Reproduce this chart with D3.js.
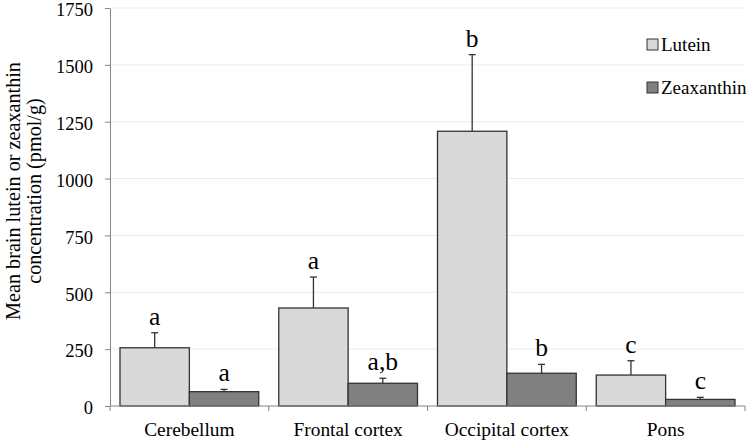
<!DOCTYPE html>
<html>
<head>
<meta charset="utf-8">
<script src="https://cdn.jsdelivr.net/npm/d3@7/dist/d3.min.js"></script>
<style>
  html, body { margin: 0; padding: 0; background: #fff; }
  svg { display: block; }
  svg text { font-family: "Liberation Serif", Tinos, "Times New Roman", Times, "DejaVu Serif", serif !important; fill: #000; }
</style>
</head>
<body>
<svg id="chart" width="750" height="443"></svg>
<script>
const categories = ["Cerebellum", "Frontal cortex", "Occipital cortex", "Pons"];
const seriesNames = ["Lutein", "Zeaxanthin"];
const luteinValues = [256, 431, 1208, 136];
const luteinErrors = [66, 136, 337, 63];
const zeaxanthinValues = [63, 100, 144, 29];
const zeaxanthinErrors = [10, 22, 39, 9];
const luteinLetters = ["a", "a", "b", "c"];
const zeaxanthinLetters = ["a", "a,b", "b", "c"];
const yTicks = [0, 250, 500, 750, 1000, 1250, 1500, 1750];
const colors = ["#d9d9d9", "#808080"];

const svg = d3.select("#chart");
const plotLeft = 110, plotRight = 745, plotTop = 8, plotBottom = 406;

const x = d3.scaleBand().domain(categories).range([plotLeft, plotRight]).paddingInner(0).paddingOuter(0);
const xInner = d3.scaleBand().domain(seriesNames).range([10, x.bandwidth() - 10]).padding(0);
const y = d3.scaleLinear().domain([0, 1750]).range([plotBottom, plotTop]);

// gridlines
svg.append("g").selectAll("line").data(yTicks.slice(1)).join("line")
  .attr("x1", plotLeft).attr("x2", plotRight)
  .attr("y1", d => y(d)).attr("y2", d => y(d))
  .attr("stroke", "#ececec").attr("stroke-width", 1);

// y axis
const yAxis = svg.append("g").attr("transform", `translate(${plotLeft},0)`)
  .call(d3.axisLeft(y).tickValues(yTicks).tickSize(5).tickPadding(12).tickSizeOuter(0).tickFormat(d3.format("d")));
yAxis.attr("font-family", null).attr("font-size", null);
yAxis.select(".domain").attr("stroke", "#868686");
yAxis.selectAll(".tick line").attr("stroke", "#868686");
yAxis.selectAll(".tick text").style("font-size", "18.5px").attr("dy", "0.42em");

const data = categories.map((c, i) => ({
  cat: c,
  items: [
    { s: "Lutein", v: luteinValues[i], e: luteinErrors[i], l: luteinLetters[i], c: colors[0] },
    { s: "Zeaxanthin", v: zeaxanthinValues[i], e: zeaxanthinErrors[i], l: zeaxanthinLetters[i], c: colors[1] }
  ]
}));

const groups = svg.append("g").selectAll("g").data(data).join("g")
  .attr("transform", d => `translate(${x(d.cat)},0)`);

groups.selectAll("rect").data(d => d.items).join("rect")
  .attr("x", d => xInner(d.s))
  .attr("y", d => y(d.v))
  .attr("width", xInner.bandwidth())
  .attr("height", d => y(0) - y(d.v))
  .attr("fill", d => d.c)
  .attr("stroke", "#333").attr("stroke-width", 1.3);

// error bars
groups.selectAll("line.err").data(d => d.items).join("line").attr("class", "err")
  .attr("x1", d => xInner(d.s) + xInner.bandwidth() / 2)
  .attr("x2", d => xInner(d.s) + xInner.bandwidth() / 2)
  .attr("y1", d => y(d.v)).attr("y2", d => y(d.v + d.e))
  .attr("stroke", "#333").attr("stroke-width", 1.3);
groups.selectAll("line.cap").data(d => d.items).join("line").attr("class", "cap")
  .attr("x1", d => xInner(d.s) + xInner.bandwidth() / 2 - 3.5)
  .attr("x2", d => xInner(d.s) + xInner.bandwidth() / 2 + 3.5)
  .attr("y1", d => y(d.v + d.e)).attr("y2", d => y(d.v + d.e))
  .attr("stroke", "#333").attr("stroke-width", 1.3);

// letters
groups.selectAll("text.sig").data(d => d.items).join("text").attr("class", "sig")
  .attr("x", d => xInner(d.s) + xInner.bandwidth() / 2)
  .attr("y", d => y(d.v + d.e) - 8)
  .attr("text-anchor", "middle")
  .style("font-size", "25.5px")
  .text(d => d.l);

// x axis
const xAxis = svg.append("g");
xAxis.append("line").attr("x1", plotLeft).attr("x2", plotRight).attr("y1", plotBottom).attr("y2", plotBottom)
  .attr("stroke", "#868686");
const bounds = categories.map(c => x(c)).concat([x(categories[categories.length - 1]) + x.bandwidth()]);
xAxis.selectAll("line.t").data(bounds).join("line").attr("class", "t")
  .attr("x1", d => d).attr("x2", d => d).attr("y1", plotBottom).attr("y2", plotBottom + 5)
  .attr("stroke", "#868686");
xAxis.selectAll("text").data(categories).join("text")
  .attr("x", d => x(d) + x.bandwidth() / 2)
  .attr("y", 436)
  .attr("text-anchor", "middle")
  .style("font-size", "19.4px")
  .text(d => d);

// y title
const title = svg.append("text")
  .attr("transform", "translate(20,191) rotate(-90)")
  .attr("text-anchor", "middle")
  .style("font-size", "20.2px");
title.append("tspan").attr("x", 0).attr("dy", 0).text("Mean brain lutein or zeaxanthin");
title.append("tspan").attr("x", 0).attr("dy", 21).text("concentration (pmol/g)");

// legend
const legend = svg.append("g");
const legY = [39, 82];
seriesNames.forEach((s, i) => {
  legend.append("rect").attr("x", 647).attr("y", legY[i]).attr("width", 11).attr("height", 11)
    .attr("fill", colors[i]).attr("stroke", "#333").attr("stroke-width", 1);
  legend.append("text").attr("x", 661).attr("y", legY[i] + 12).style("font-size", "19px").text(s);
});
</script>
</body>
</html>
